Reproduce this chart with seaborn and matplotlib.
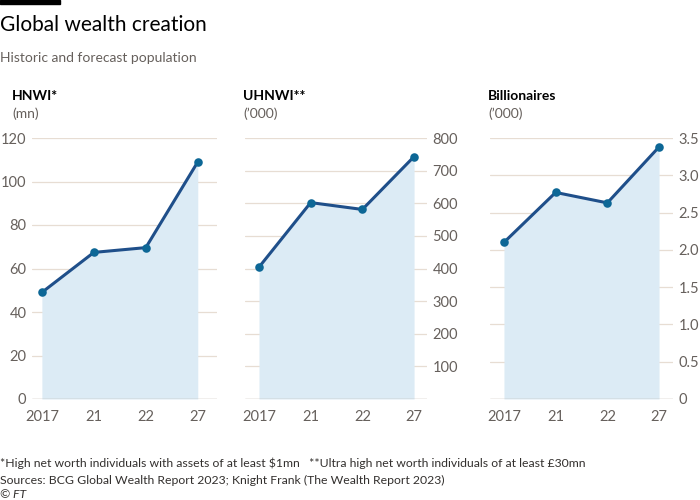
import numpy as np
import pandas as pd
import matplotlib.pyplot as plt
import seaborn as sns

years = ['2017', '21', '22', '27']
hnwi = [49, 67.4, 69.6, 109]
uhnwi = [404, 602, 581, 743]
billionaires = [2.1, 2.77, 2.63, 3.38]

panel_titles = ['HNWI*', 'UHNWI**', 'Billionaires']
panel_units = ['(mn)', '(\u2019000)', '(\u2019000)']
panel_ticks = [
    [0, 20, 40, 60, 80, 100, 120],
    [100, 200, 300, 400, 500, 600, 700, 800],
    [0, 0.5, 1.0, 1.5, 2.0, 2.5, 3.0, 3.5],
]
panel_ticklabels = [
    ['0', '20', '40', '60', '80', '100', '120'],
    ['100', '200', '300', '400', '500', '600', '700', '800'],
    ['0', '0.5', '1.0', '1.5', '2.0', '2.5', '3.0', '3.5'],
]
panel_ylim = [120, 800, 3.5]

sns.set_theme(style='white')
plt.rcParams['font.family'] = ['Lato', 'DejaVu Sans']

LINE = '#1f4f8a'
DOT = '#0d6796'
FILL = '#dcebf5'
GRID = '#e7ddd3'
TEXT = '#66605c'

fig = plt.figure(figsize=(7, 5), dpi=100)

# axes boxes in pixels: (left, right)
boxes = [(32, 217), (245, 427), (490, 673)]
xlims = [(-0.19, 3.37), (-0.27, 3.25), (-0.27, 3.27)]
series = [hnwi, uhnwi, billionaires]
sides = ['left', 'right', 'right']

for i, (l, r) in enumerate(boxes):
    ax = fig.add_axes([l / 700, (500 - 399) / 500, (r - l) / 700, 261 / 500])
    df = pd.DataFrame({'x': np.arange(len(years)), 'y': series[i]})
    ax.fill_between(df['x'], 0, df['y'], color=FILL, lw=0, zorder=1)
    sns.lineplot(data=df, x='x', y='y', ax=ax, color=LINE, lw=2.2, zorder=3)
    ax.scatter(df['x'], df['y'], s=38, color=DOT, zorder=4, clip_on=False, lw=0)
    ax.set_xlim(*xlims[i])
    ax.set_ylim(0, panel_ylim[i])
    ax.set_yticks(panel_ticks[i])
    ax.set_yticklabels(panel_ticklabels[i])
    for t in panel_ticks[i]:
        if t != 0:
            ax.axhline(t, color=GRID, lw=0.9, zorder=0)
    ax.axhline(0, color='#b8b0a8', lw=1.0, zorder=2)
    ax.set_xticks(range(len(years)))
    ax.set_xticklabels(years)
    ax.tick_params(axis='x', length=5, width=0.8, color='#b8b0a8', labelsize=10.5,
                   labelcolor=TEXT, pad=3)
    ax.tick_params(axis='y', length=0, labelsize=10.5, labelcolor=TEXT, pad=4)
    if sides[i] == 'right':
        ax.yaxis.tick_right()
    for s in ax.spines.values():
        s.set_visible(False)
    ax.set_xlabel('')
    ax.set_ylabel('')

# panel headers
head_x = [12, 243, 488]
for i in range(3):
    fig.text(head_x[i] / 700, 1 - 96 / 500, panel_titles[i], fontsize=10,
             fontweight='bold', color='#000000', va='center')
    fig.text(head_x[i] / 700, 1 - 114 / 500, panel_units[i], fontsize=10,
             color=TEXT, va='center')

# title block
fig.patches.append(plt.Rectangle((0, 1 - 4 / 500), 60 / 700, 4 / 500,
                                 transform=fig.transFigure, color='black'))
fig.text(0.0, 1 - 25 / 500, 'Global wealth creation', fontsize=15,
         color='#000000', va='center')
fig.text(0.0, 1 - 58 / 500, 'Historic and forecast population', fontsize=10,
         color=TEXT, va='center')

# footnotes
fig.text(0.0, 1 - 463 / 500,
         '*High net worth individuals with assets of at least $1mn   '
         '**Ultra high net worth individuals of at least \u00a330mn',
         fontsize=8.8, color='#33302e', va='center')
fig.text(0.0, 1 - 480 / 500,
         'Sources: BCG Global Wealth Report 2023; Knight Frank (The Wealth Report 2023)',
         fontsize=8.8, color='#33302e', va='center')
fig.text(0.0, 1 - 495 / 500, '\u00a9 FT', fontsize=8.8, color='#33302e',
         va='center', style='italic')

fig.savefig('out.png', dpi=100)
